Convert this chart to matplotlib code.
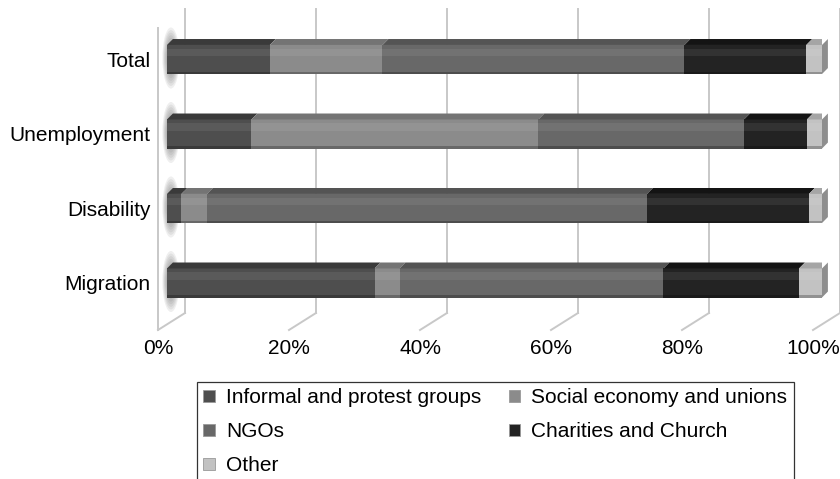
import numpy as np
import matplotlib
matplotlib.use("Agg")
import matplotlib.pyplot as plt
from matplotlib.patches import Polygon, Ellipse
from matplotlib.transforms import ScaledTranslation

plt.rcParams['font.family'] = ['Liberation Sans', 'DejaVu Sans']

# data (percent of organisations per policy field)
categories = ["Total", "Unemployment", "Disability", "Migration"]
series_names = ["Informal and protest groups", "Social economy and unions",
                "NGOs", "Charities and Church", "Other"]
informal = [15.7, 12.9, 2.2, 31.7]
social = [17.2, 43.8, 3.9, 3.8]
ngos = [46.1, 31.4, 67.2, 40.3]
charities = [18.6, 9.6, 24.7, 20.7]
other = [2.4, 2.3, 2.0, 3.5]
x_ticks = [0, 20, 40, 60, 80, 100]
x_labels = ["0%", "20%", "40%", "60%", "80%", "100%"]

series = [informal, social, ngos, charities, other]
front_colors = ["#4e4e4e", "#8b8b8b", "#686868", "#232323", "#c2c2c2"]
top_colors = ["#3a3a3a", "#747474", "#545454", "#141414", "#a5a5a5"]

fig = plt.figure(figsize=(8.4, 4.79), dpi=100)
ax = fig.add_axes([167 / 840, (479 - 313) / 479, 655 / 840, 304 / 479])
ax.set_xlim(0, 100)
ax.set_ylim(-0.403, 3.678)

ypos = np.arange(len(categories))[::-1]
bar_h = 0.39
dx, dy = 0.9, 0.08          # depth of top face (data units)
px = 100 / 655              # one pixel in x data units
py = 1 / 74.5               # one pixel in y data units

# back wall gridlines, floor diagonals and left wall
for t in x_ticks:
    ax.plot([t + 18 * px, t + 18 * px], [-0.403, 3.678], color="#c8c8c8", lw=1.4,
            clip_on=False, zorder=0)
    ax.plot([t + 18 * px, t - 9 * px], [-0.403, -0.403 - 17 * py], color="#c8c8c8",
            lw=1.4, clip_on=False, zorder=0)
ax.plot([-9 * px, -9 * px], [3.42, -0.403 - 17 * py], color="#c8c8c8", lw=1.4,
        clip_on=False, zorder=0)

# soft shadows at the left end of each bar
for y in ypos:
    for k in range(8):
        ax.add_patch(Ellipse((0.6, y + 0.02), width=2.6 - k * 0.25, height=0.82 - k * 0.07,
                             facecolor="#505050", edgecolor="none", alpha=0.09,
                             zorder=1, clip_on=False))

left = np.zeros(len(categories))
for vals, fc, tc in zip(series, front_colors, top_colors):
    vals = np.array(vals)
    ax.barh(ypos, vals, left=left, height=bar_h, color=fc, edgecolor="none", zorder=2)
    # soft highlight on upper part of front face
    ax.barh(ypos + bar_h / 2 - 0.1, vals, left=left, height=0.1, color="white",
            alpha=0.07, edgecolor="none", zorder=3)
    # dark bottom edge
    ax.barh(ypos - bar_h / 2 + 0.015, vals, left=left, height=0.03, color="black",
            alpha=0.25, edgecolor="none", zorder=3)
    for y, l, v in zip(ypos, left, vals):
        top = y + bar_h / 2
        ax.add_patch(Polygon([(l, top), (l + v, top), (l + v + dx, top + dy), (l + dx, top + dy)],
                             closed=True, facecolor=tc, edgecolor="none", zorder=2))
    left = left + vals

# right end faces
for y, r in zip(ypos, left):
    b, t = y - bar_h / 2, y + bar_h / 2
    ax.add_patch(Polygon([(r, b), (r + dx, b + dy), (r + dx, t + dy), (r, t)], closed=True,
                         facecolor="#8e8e8e", edgecolor="none", zorder=2, clip_on=False))

ax.set_yticks(ypos)
ax.set_yticklabels(categories, fontsize=15)
ax.set_xticks(x_ticks)
ax.set_xticklabels(x_labels, fontsize=15)
ax.tick_params(axis="both", length=0)
ax.tick_params(axis="y", pad=12)
ax.tick_params(axis="x", pad=19)
for lab in ax.get_xticklabels():
    lab.set_transform(lab.get_transform() + ScaledTranslation(-9 / 100, 0, fig.dpi_scale_trans))
for s in ax.spines.values():
    s.set_visible(False)

# legend, laid out row by row like the original
handles = [plt.Rectangle((0, 0), 1, 1, facecolor=c, edgecolor="#999999", lw=0.6)
           for c in front_colors]
order = [0, 2, 4, 1, 3]
leg = fig.legend([handles[i] for i in order], [series_names[i] for i in order],
                 loc="upper left", bbox_to_anchor=(197 / 840, 1 - 382 / 479), ncol=2,
                 fontsize=15, frameon=True, fancybox=False, edgecolor="black",
                 handlelength=0.55, handleheight=0.55, handletextpad=0.55,
                 columnspacing=1.3, labelspacing=0.72, borderpad=0.3, borderaxespad=0)
leg.get_frame().set_linewidth(0.9)

fig.savefig("out.png", dpi=100)
